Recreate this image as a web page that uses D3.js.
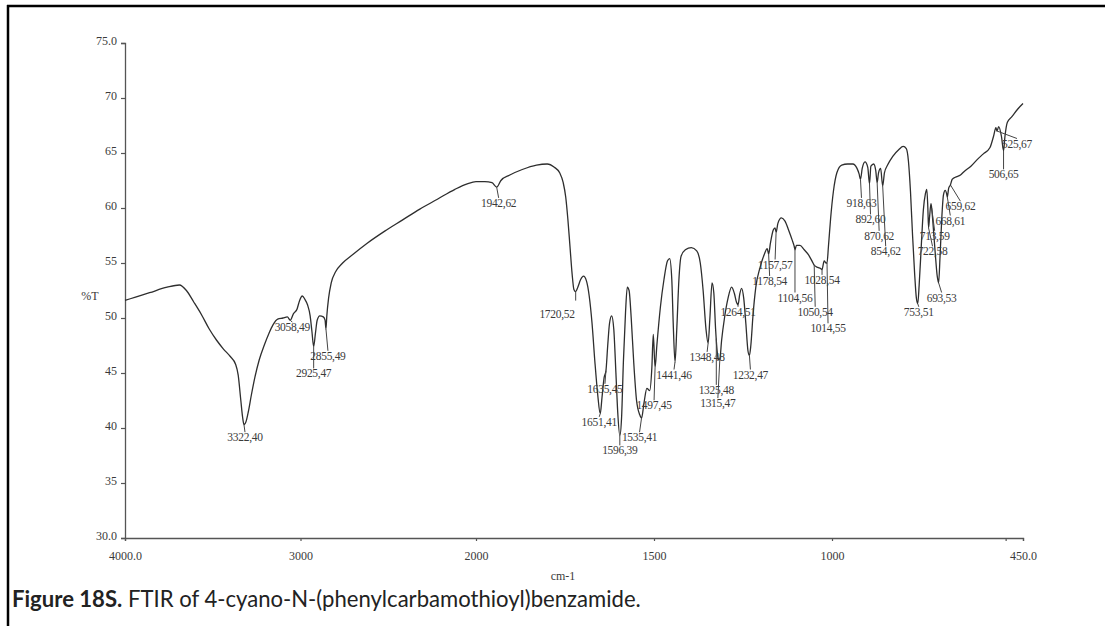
<!DOCTYPE html>
<html><head><meta charset="utf-8">
<script src="https://cdn.jsdelivr.net/npm/d3@7/dist/d3.min.js"></script>
<style>body{margin:0;background:#fff}svg{display:block}</style>
</head><body><svg id="c" width="1105" height="626"></svg>
<script>
// ---- data ----
const wavenumbers = [4000,3940,3860,3760,3690,3650,3610,3564,3520,3479,3440,3400,3370,3355,3340,3330,3322,3310,3297,3280,3260,3235,3205,3180,3156,3130,3100,3075,3058,3040,3020,3005,2990,2975,2960,2945,2935,2925,2915,2905,2890,2870,2860,2855,2850,2840,2825,2800,2760,2700,2620,2520,2420,2320,2220,2120,2050,2000,1975,1955,1942,1930,1905,1870,1830,1800,1780,1765,1755,1748,1742,1736,1730,1725,1720,1714,1706,1698,1690,1682,1674,1666,1658,1651,1646,1640,1635,1630,1625,1619,1613,1607,1602,1596,1591,1586,1580,1575,1570,1564,1557,1549,1540,1535,1528,1520,1512,1506,1502,1497,1492,1482,1472,1462,1456,1450,1446,1441,1436,1430,1424,1412,1395,1380,1370,1362,1354,1348,1343,1337,1332,1327,1322,1318,1315,1310,1302,1292,1282,1274,1268,1264,1259,1254,1248,1242,1236,1232,1228,1222,1214,1202,1190,1182,1178,1173,1165,1160,1157,1152,1142,1132,1122,1112,1106,1104,1100,1090,1078,1065,1055,1050,1040,1032,1028,1022,1017,1014,1010,1004,996,986,972,955,940,928,922,918,913,905,897,892,888,880,874,870,866,860,854,849,840,825,808,795,786,780,774,768,762,757,753,749,743,737,731,727,724,722,719,715,713,709,703,697,693,689,684,679,674,670,668,664,659,654,645,630,620,600,582,565,545,535,528,525,520,512,506,502,495,482,465,450];
const transmittance = [51.6,51.9,52.3,52.8,53.0,52.5,51.5,50.3,49.0,48.0,47.2,46.5,45.8,44.8,42.5,41.0,40.3,40.6,41.5,43.0,44.6,46.2,47.6,48.6,49.4,49.9,50.0,50.1,49.8,50.4,50.8,51.6,52.0,51.7,51.2,50.2,48.8,47.4,48.6,49.8,50.2,50.1,49.8,49.0,50.2,51.8,53.2,54.2,55.0,55.8,56.8,57.9,58.9,59.9,60.8,61.7,62.2,62.4,62.4,62.3,61.9,62.5,63.0,63.5,63.9,64.0,63.7,63.2,62.3,61.0,59.0,56.5,54.0,52.6,52.4,52.8,53.5,53.8,53.4,52.0,49.5,46.0,43.0,41.3,42.8,44.6,45.2,47.5,49.5,50.2,49.0,45.0,41.5,39.3,41.0,46.0,50.5,52.8,52.5,50.0,46.0,42.5,41.2,40.9,42.3,43.6,43.4,45.5,48.5,45.5,47.5,51.0,53.5,55.2,55.4,53.5,49.5,46.0,49.0,53.5,55.6,56.2,56.4,56.1,55.0,52.5,49.0,47.7,50.0,53.2,52.3,49.0,46.8,46.2,46.3,48.0,50.0,51.8,52.8,52.2,51.4,51.2,52.2,52.7,51.8,49.5,47.0,46.6,47.5,50.2,52.8,54.6,55.8,56.3,55.8,56.8,58.0,58.2,57.8,58.6,59.1,58.8,58.0,57.1,56.5,56.2,56.6,56.6,56.2,55.7,55.1,54.8,54.6,54.5,54.4,55.2,55.0,55.0,56.5,59.0,61.5,63.2,63.9,64.0,64.0,63.6,63.1,62.6,63.6,64.2,63.7,62.2,63.8,64.0,63.4,62.3,63.2,63.6,62.0,63.2,63.9,64.7,65.3,65.6,65.4,64.3,61.5,57.5,54.0,51.8,51.3,53.0,56.5,59.8,61.3,61.7,60.0,58.2,59.2,60.4,60.0,58.5,56.0,53.8,53.2,55.5,59.0,61.2,61.6,61.3,61.0,61.8,62.1,62.6,62.8,63.0,63.3,63.8,64.4,64.9,65.5,66.5,67.3,67.0,67.4,66.5,65.2,66.5,67.8,68.3,69.0,69.5];

const peakWavenumbers = [3322,3058,2925,2855,1942,1720,1651,1635,1596,1535,1497,1441,1348,1325,1315,1264,1232,1178,1157,1104,1050,1028,1014,918,892,870,854,753,722,713,693,668,659,525,506];
const peakLabels = ["3322,40","3058,49","2925,47","2855,49","1942,62","1720,52","1651,41","1635,45","1596,39","1535,41","1497,45","1441,46","1348,48","1325,48","1315,47","1264,51","1232,47","1178,54","1157,57","1104,56","1050,54","1028,54","1014,55","918,63","892,60","870,62","854,62","753,51","722,58","713,59","693,53","668,61","659,62","525,67","506,65"];

const yTicks = [30,35,40,45,50,55,60,65,70,75];
const yTickLabels = ["30.0","35","40","45","50","55","60","65","70","75.0"];
const xTicks = [4000,3000,2000,1500,1000,500,450];
const xTickLabels = ["4000.0","3000","2000","1500","1000","","450.0"];

// ---- layout (label placement: x offset px, baseline in %T, anchor) ----
const labelLayout = [[1,38.8],[2,48.8],[0,44.6],[2,46.2],[2,60.1],[-1,50.0,"end"],[-1,40.2],[-1,43.2],[0,37.6],[-2,38.8],[-1,41.7],[-1,44.5],[-1,46.1],[0,43.1],[-2,41.9],[0,50.2],[1,44.5],[1,53.0],[-1,54.5],[0,51.5],[1,50.2],[0,53.1],[1,48.7],[1,60.1],[1,58.6],[2,57.1],[3,55.7],[1,50.2],[4,55.7],[3,57.1],[3,51.5],[3,58.5],[10,59.8],[20,65.5],[0,62.7]];

const svg = d3.select("#c");
const x = d3.scaleLinear().domain([4000,2000,1000,450]).range([125,476,832,1023]);
const y = d3.scaleLinear().domain([30,75]).range([538,43]);
const ink = "#3a3a3a";
const serif = "Liberation Serif, Times New Roman, serif";

// frame
svg.append("line").attr("x1",8).attr("x2",8).attr("y1",5).attr("y2",626).attr("stroke","#000").attr("stroke-width",2.5);
svg.append("line").attr("x1",7).attr("x2",1105).attr("y1",6).attr("y2",6).attr("stroke","#000").attr("stroke-width",2.5);

const g = svg.append("g");
svg.append("clipPath").attr("id","cp").append("rect").attr("x",10).attr("y",8).attr("width",1095).attr("height",573);
g.attr("clip-path","url(#cp)");

// y axis
const yAxis = d3.axisLeft(y).tickValues(yTicks).tickFormat((d,i)=>yTickLabels[i]).tickSize(4).tickPadding(4);
const ya = g.append("g").attr("transform","translate(125,0)").call(yAxis);
// x axis
const xAxis = d3.axisBottom(x).tickValues(xTicks).tickFormat((d,i)=>xTickLabels[i]).tickSize(3).tickPadding(10);
const xa = g.append("g").attr("transform","translate(0,538)").call(xAxis);
[ya,xa].forEach(a=>{
  a.select(".domain").attr("stroke","#555").attr("stroke-width",1.3);
  a.selectAll(".tick line").attr("stroke","#555").attr("stroke-width",1.2);
  a.selectAll(".tick text").attr("fill",ink).attr("font-family",serif).attr("font-size","12px");
});
ya.selectAll(".tick text").attr("dy","0.1em");

g.append("text").attr("x",90).attr("y",300).attr("text-anchor","middle").attr("fill",ink)
  .attr("font-family",serif).attr("font-size","12px").text("%T");
g.append("text").attr("x",563).attr("y",580).attr("text-anchor","middle").attr("fill",ink)
  .attr("font-family",serif).attr("font-size","12px").text("cm-1");

// spectrum
const pts = wavenumbers.map((w,i)=>[w,transmittance[i]]);
const line = d3.line().x(d=>x(d[0])).y(d=>y(d[1])).curve(d3.curveMonotoneX);
g.append("path").datum(pts).attr("d",line).attr("fill","none").attr("stroke","#2e2e2e").attr("stroke-width",1.3);

// peak annotations
function tAt(w){
  for(let i=0;i<wavenumbers.length-1;i++){
    const a=wavenumbers[i], b=wavenumbers[i+1];
    if(w<=a && w>=b){ const f=(a-w)/(a-b); return transmittance[i]+f*(transmittance[i+1]-transmittance[i]); }
  }
  return transmittance[transmittance.length-1];
}
peakWavenumbers.forEach((w,i)=>{
  const [dx,ty,anchor] = labelLayout[i];
  const px = x(w), py = y(tAt(w));
  const lx = px+dx, ly = y(ty);
  const top = ly-9;
  if(top>py+1){
    g.append("line").attr("x1",px).attr("y1",py).attr("x2",anchor==="end"?px:lx).attr("y2",anchor==="end"?py+9:top)
      .attr("stroke","#444").attr("stroke-width",1);
  }
  g.append("text").attr("x",lx).attr("y",ly).attr("text-anchor",anchor||"middle").attr("fill",ink)
    .attr("font-family",serif).attr("font-size","11.5px").attr("letter-spacing","-0.3").text(peakLabels[i]);
});

// caption
const cap = svg.append("text").attr("x",12).attr("y",607).attr("font-family","Lato, Noto Sans, sans-serif").attr("font-size","15px").attr("fill","#222");
cap.append("tspan").attr("font-weight","bold").text("Figure 18S.");
cap.append("tspan").text(" FTIR of 4-cyano-N-(phenylcarbamothioyl)benzamide.");
const wcap = cap.node().getComputedTextLength();
cap.attr("font-size",(15*629/wcap).toFixed(2)+"px");
</script></body></html>
